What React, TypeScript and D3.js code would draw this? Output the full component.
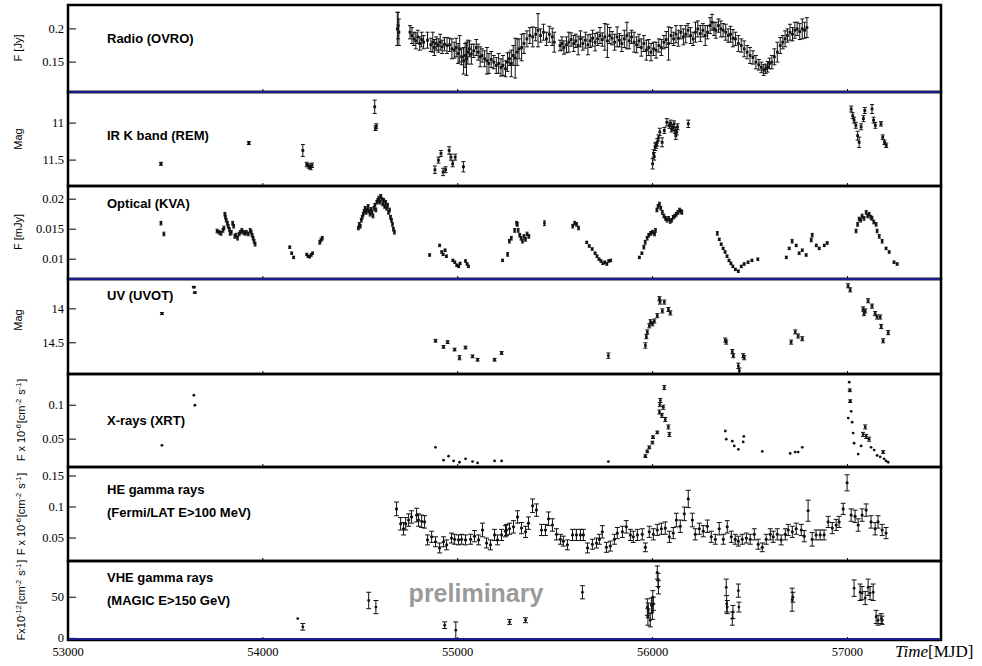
import * as d3 from 'd3';
import type { ReactNode } from 'react';

// [MJD, value, error]
type Pt = [number, number, number];

const radio: Pt[] = [
  [54690, 0.2, 0.025], [54694, 0.205, 0.02], [54698, 0.195, 0.02],
  [54755, 0.195, 0.01], [54765, 0.19, 0.012], [54775, 0.185, 0.01], [54785, 0.182, 0.012], [54795, 0.188, 0.01],
  [54805, 0.178, 0.01], [54815, 0.184, 0.011], [54825, 0.18, 0.01], [54845, 0.183, 0.012], [54862, 0.176, 0.01],
  [54872, 0.18, 0.015], [54880, 0.172, 0.012], [54890, 0.178, 0.01], [54900, 0.175, 0.01], [54910, 0.18, 0.012],
  [54920, 0.173, 0.01], [54932, 0.177, 0.01], [54945, 0.175, 0.012], [54958, 0.176, 0.01], [54970, 0.17, 0.015],
  [54982, 0.168, 0.012], [54992, 0.172, 0.014], [55002, 0.163, 0.015], [55010, 0.17, 0.02], [55020, 0.158, 0.012],
  [55030, 0.152, 0.02], [55038, 0.16, 0.018], [55045, 0.155, 0.025], [55052, 0.165, 0.018], [55060, 0.17, 0.012],
  [55070, 0.162, 0.015], [55082, 0.167, 0.01], [55095, 0.172, 0.012], [55105, 0.165, 0.012], [55115, 0.158, 0.015],
  [55125, 0.16, 0.01], [55138, 0.155, 0.012], [55150, 0.152, 0.02], [55160, 0.148, 0.015], [55172, 0.154, 0.012],
  [55185, 0.15, 0.01], [55198, 0.145, 0.012], [55210, 0.148, 0.015], [55222, 0.142, 0.013], [55232, 0.145, 0.015],
  [55245, 0.14, 0.012], [55255, 0.15, 0.014], [55265, 0.155, 0.01], [55275, 0.148, 0.02], [55285, 0.16, 0.015],
  [55295, 0.156, 0.03], [55305, 0.165, 0.02], [55315, 0.17, 0.015], [55328, 0.172, 0.02], [55340, 0.178, 0.015],
  [55355, 0.185, 0.012], [55370, 0.19, 0.012], [55385, 0.188, 0.015], [55400, 0.192, 0.01], [55412, 0.198, 0.025],
  [55425, 0.19, 0.01], [55440, 0.195, 0.012], [55455, 0.185, 0.01], [55470, 0.192, 0.012], [55485, 0.188, 0.013],
  [55495, 0.18, 0.015], [55525, 0.175, 0.008], [55535, 0.178, 0.01], [55545, 0.172, 0.01], [55558, 0.176, 0.012],
  [55570, 0.18, 0.015], [55582, 0.184, 0.01], [55595, 0.178, 0.012], [55606, 0.182, 0.01], [55618, 0.175, 0.014],
  [55630, 0.185, 0.012], [55642, 0.178, 0.01], [55655, 0.183, 0.012], [55668, 0.176, 0.015], [55680, 0.182, 0.01],
  [55692, 0.186, 0.012], [55705, 0.18, 0.013], [55718, 0.185, 0.01], [55730, 0.19, 0.012], [55742, 0.184, 0.01],
  [55755, 0.188, 0.02], [55768, 0.182, 0.025], [55780, 0.19, 0.012], [55792, 0.186, 0.01], [55805, 0.18, 0.012],
  [55818, 0.188, 0.015], [55830, 0.183, 0.01], [55842, 0.178, 0.012], [55855, 0.185, 0.013], [55868, 0.19, 0.02],
  [55880, 0.182, 0.012], [55892, 0.188, 0.01], [55905, 0.18, 0.015], [55918, 0.176, 0.012], [55930, 0.182, 0.01],
  [55942, 0.172, 0.013], [55955, 0.178, 0.012], [55968, 0.168, 0.015], [55980, 0.172, 0.012], [55992, 0.165, 0.013],
  [56005, 0.17, 0.01], [56018, 0.168, 0.012], [56032, 0.175, 0.01], [56045, 0.172, 0.012], [56058, 0.18, 0.01],
  [56070, 0.184, 0.012], [56082, 0.178, 0.025], [56095, 0.19, 0.012], [56108, 0.185, 0.01], [56120, 0.192, 0.013],
  [56132, 0.186, 0.012], [56145, 0.195, 0.01], [56158, 0.188, 0.012], [56170, 0.192, 0.013], [56182, 0.198, 0.01],
  [56195, 0.19, 0.012], [56208, 0.185, 0.01], [56220, 0.195, 0.015], [56232, 0.2, 0.012], [56245, 0.193, 0.012],
  [56258, 0.198, 0.01], [56270, 0.19, 0.015], [56282, 0.195, 0.01], [56295, 0.205, 0.012], [56305, 0.21, 0.012],
  [56315, 0.2, 0.01], [56325, 0.198, 0.012], [56338, 0.205, 0.01], [56350, 0.2, 0.012], [56362, 0.198, 0.01],
  [56375, 0.195, 0.012], [56388, 0.19, 0.01], [56400, 0.192, 0.012], [56412, 0.186, 0.013], [56425, 0.185, 0.01],
  [56440, 0.178, 0.012], [56455, 0.175, 0.01], [56470, 0.17, 0.012], [56485, 0.165, 0.01], [56500, 0.16, 0.012],
  [56515, 0.157, 0.01], [56530, 0.15, 0.01], [56545, 0.146, 0.008], [56558, 0.142, 0.008], [56570, 0.138, 0.008],
  [56580, 0.14, 0.007], [56590, 0.143, 0.008], [56600, 0.148, 0.008], [56612, 0.15, 0.01], [56625, 0.158, 0.012],
  [56640, 0.165, 0.015], [56655, 0.175, 0.012], [56668, 0.18, 0.01], [56680, 0.185, 0.012], [56692, 0.19, 0.01],
  [56705, 0.195, 0.012], [56718, 0.192, 0.01], [56730, 0.198, 0.012], [56742, 0.2, 0.01], [56755, 0.196, 0.012],
  [56768, 0.2, 0.015], [56780, 0.198, 0.012], [56792, 0.202, 0.015],
];

const irK: Pt[] = [
  [53477, 11.55, 0.02], [53928, 11.27, 0.02], [54205, 11.37, 0.08],
  [54225, 11.56, 0.03], [54235, 11.58, 0.03], [54245, 11.6, 0.03], [54252, 11.57, 0.03],
  [54574, 10.78, 0.09], [54578, 11.07, 0.03], [54582, 11.04, 0.03],
  [54883, 11.63, 0.05], [54901, 11.5, 0.04], [54914, 11.41, 0.04], [54925, 11.66, 0.05], [54938, 11.63, 0.04],
  [54956, 11.37, 0.05], [54965, 11.46, 0.04], [54974, 11.55, 0.04], [54987, 11.46, 0.04], [55029, 11.59, 0.07],
  [56000, 11.55, 0.07], [56005, 11.41, 0.05], [56008, 11.45, 0.05], [56013, 11.32, 0.05], [56018, 11.3, 0.04],
  [56024, 11.26, 0.05], [56030, 11.2, 0.04], [56037, 11.12, 0.05], [56049, 11.26, 0.06], [56060, 11.1, 0.04],
  [56073, 10.99, 0.05], [56086, 11.03, 0.04], [56092, 11.0, 0.04], [56097, 11.08, 0.04], [56104, 11.06, 0.04],
  [56110, 11.01, 0.04], [56115, 11.1, 0.04], [56119, 11.17, 0.05], [56124, 11.12, 0.04], [56128, 11.05, 0.04],
  [56183, 11.01, 0.05],
  [57019, 10.81, 0.04], [57027, 10.9, 0.04], [57034, 10.96, 0.04], [57043, 11.03, 0.04], [57052, 11.17, 0.06],
  [57060, 11.26, 0.07], [57070, 11.05, 0.04], [57082, 10.94, 0.04], [57089, 10.83, 0.04], [57126, 10.81, 0.06],
  [57134, 10.96, 0.04], [57143, 11.03, 0.04], [57172, 11.01, 0.03], [57181, 11.19, 0.03], [57190, 11.26, 0.03],
  [57199, 11.3, 0.03],
];

const optical: Pt[] = [
  [53477, 0.016, 0.0003], [53492, 0.0142, 0.0003],
  [53765, 0.0147, 0.0003], [53775, 0.0145, 0.0003], [53785, 0.0143, 0.0003], [53795, 0.0148, 0.0003],
  [53800, 0.0152, 0.0003], [53805, 0.0175, 0.0003], [53808, 0.017, 0.0003], [53812, 0.0165, 0.0003],
  [53818, 0.016, 0.0003], [53822, 0.0155, 0.0003], [53828, 0.015, 0.0003], [53832, 0.0143, 0.0003],
  [53838, 0.0145, 0.0003], [53845, 0.016, 0.0003], [53850, 0.0155, 0.0003], [53856, 0.0138, 0.0003],
  [53862, 0.014, 0.0003], [53870, 0.0135, 0.0003], [53878, 0.0142, 0.0003], [53885, 0.0145, 0.0003],
  [53892, 0.0148, 0.0003], [53900, 0.0145, 0.0003], [53908, 0.0143, 0.0003], [53915, 0.0145, 0.0003],
  [53925, 0.0142, 0.0003], [53935, 0.0148, 0.0003], [53940, 0.0145, 0.0003], [53945, 0.014, 0.0003],
  [53950, 0.0135, 0.0003], [53955, 0.013, 0.0003], [53960, 0.0125, 0.0003],
  [54138, 0.012, 0.0002], [54148, 0.011, 0.0002], [54158, 0.0103, 0.0002],
  [54225, 0.0108, 0.0002], [54232, 0.0105, 0.0002], [54240, 0.0104, 0.0002], [54248, 0.0107, 0.0002],
  [54255, 0.011, 0.0002], [54292, 0.0128, 0.0003], [54298, 0.0132, 0.0003], [54305, 0.0135, 0.0003],
  [54490, 0.0152, 0.0003], [54495, 0.0158, 0.0003], [54500, 0.0155, 0.0003], [54505, 0.0165, 0.0003],
  [54510, 0.017, 0.0003], [54515, 0.0175, 0.0003], [54520, 0.018, 0.0003], [54525, 0.0185, 0.0003],
  [54530, 0.0178, 0.0003], [54535, 0.0182, 0.0003], [54540, 0.0188, 0.0003], [54545, 0.018, 0.0003],
  [54550, 0.0175, 0.0003], [54555, 0.0183, 0.0003], [54560, 0.0178, 0.0003], [54565, 0.0172, 0.0003],
  [54570, 0.0185, 0.0003], [54575, 0.019, 0.0003], [54580, 0.0182, 0.0003], [54585, 0.0195, 0.0003],
  [54590, 0.0198, 0.0003], [54595, 0.0202, 0.0003], [54600, 0.0195, 0.0003], [54605, 0.0205, 0.0003],
  [54610, 0.02, 0.0003], [54615, 0.0192, 0.0003], [54620, 0.0198, 0.0003], [54625, 0.0188, 0.0003],
  [54630, 0.0195, 0.0003], [54635, 0.0185, 0.0003], [54640, 0.019, 0.0003], [54645, 0.0178, 0.0003],
  [54650, 0.0182, 0.0003], [54655, 0.017, 0.0003], [54660, 0.0165, 0.0003], [54665, 0.0158, 0.0003],
  [54670, 0.015, 0.0003], [54675, 0.0145, 0.0003],
  [54856, 0.0107, 0.0002], [54907, 0.0123, 0.0002], [54918, 0.0112, 0.0002], [54925, 0.0108, 0.0002],
  [54935, 0.0115, 0.0002], [54942, 0.0105, 0.0002], [54975, 0.0098, 0.0002], [54985, 0.0095, 0.0002],
  [54995, 0.009, 0.0002], [55005, 0.0088, 0.0002], [55012, 0.0093, 0.0002], [55040, 0.0097, 0.0002],
  [55048, 0.0092, 0.0002], [55055, 0.0088, 0.0002],
  [55230, 0.0098, 0.0002], [55256, 0.0108, 0.0003], [55265, 0.013, 0.0003], [55275, 0.0135, 0.0003],
  [55292, 0.0148, 0.0003], [55302, 0.016, 0.0003], [55306, 0.0158, 0.0003], [55310, 0.0148, 0.0003],
  [55318, 0.014, 0.0003], [55325, 0.0135, 0.0003], [55332, 0.013, 0.0003], [55340, 0.0138, 0.0003],
  [55348, 0.0133, 0.0003], [55356, 0.0142, 0.0003], [55365, 0.0138, 0.0003], [55445, 0.016, 0.0004],
  [55590, 0.0155, 0.0003], [55600, 0.016, 0.0003], [55610, 0.0158, 0.0003], [55620, 0.0152, 0.0003],
  [55662, 0.0128, 0.0002], [55675, 0.0122, 0.0002], [55690, 0.0117, 0.0002], [55705, 0.011, 0.0002],
  [55715, 0.0105, 0.0002], [55725, 0.01, 0.0002], [55735, 0.0097, 0.0002], [55745, 0.0093, 0.0002],
  [55755, 0.0095, 0.0002], [55765, 0.0092, 0.0002], [55775, 0.0097, 0.0002], [55785, 0.0098, 0.0002],
  [55932, 0.0103, 0.0002], [55945, 0.011, 0.0002], [55955, 0.012, 0.0003], [55962, 0.0128, 0.0003],
  [55972, 0.0135, 0.0003], [55980, 0.014, 0.0003], [55990, 0.0143, 0.0003], [56000, 0.0145, 0.0003],
  [56010, 0.0142, 0.0003], [56015, 0.0148, 0.0003], [56022, 0.0182, 0.0003], [56028, 0.0188, 0.0003],
  [56035, 0.0192, 0.0003], [56042, 0.0185, 0.0003], [56050, 0.0178, 0.0003], [56058, 0.0172, 0.0003],
  [56066, 0.0168, 0.0003], [56074, 0.0165, 0.0003], [56082, 0.0168, 0.0003], [56090, 0.0163, 0.0003],
  [56098, 0.0165, 0.0003], [56106, 0.017, 0.0003], [56114, 0.0172, 0.0003], [56122, 0.0175, 0.0003],
  [56130, 0.0178, 0.0003], [56138, 0.0182, 0.0003], [56145, 0.018, 0.0003], [56150, 0.0178, 0.0003],
  [56332, 0.0143, 0.0003], [56342, 0.0133, 0.0002], [56352, 0.0125, 0.0002], [56362, 0.0118, 0.0002],
  [56372, 0.0112, 0.0002], [56382, 0.0105, 0.0002], [56392, 0.0098, 0.0002], [56402, 0.0093, 0.0002],
  [56412, 0.0088, 0.0002], [56425, 0.0083, 0.0002], [56440, 0.008, 0.0002], [56455, 0.0088, 0.0002],
  [56470, 0.0092, 0.0002], [56490, 0.0095, 0.0002], [56510, 0.0098, 0.0002], [56540, 0.01, 0.0002],
  [56686, 0.0103, 0.0002], [56701, 0.0118, 0.0002], [56716, 0.013, 0.0003], [56737, 0.0123, 0.0002],
  [56752, 0.011, 0.0002], [56768, 0.0115, 0.0002], [56788, 0.0107, 0.0002], [56814, 0.0132, 0.0003],
  [56819, 0.014, 0.0003], [56840, 0.0123, 0.0002], [56855, 0.0118, 0.0002], [56881, 0.0123, 0.0002],
  [56896, 0.0127, 0.0002],
  [57044, 0.0147, 0.0003], [57052, 0.0158, 0.0003], [57060, 0.0167, 0.0003], [57068, 0.0165, 0.0003],
  [57075, 0.0172, 0.0003], [57085, 0.0168, 0.0003], [57096, 0.0178, 0.0003], [57104, 0.0172, 0.0003],
  [57111, 0.0175, 0.0003], [57120, 0.017, 0.0003], [57126, 0.0168, 0.0003], [57135, 0.0162, 0.0003],
  [57147, 0.0158, 0.0003], [57152, 0.0147, 0.0003], [57163, 0.0138, 0.0003], [57178, 0.013, 0.0003],
  [57198, 0.0118, 0.0002], [57214, 0.0112, 0.0002], [57239, 0.0095, 0.0002], [57255, 0.0092, 0.0002],
];

const uv: Pt[] = [
  [53482, 14.07, 0.015], [53646, 13.68, 0.01], [53651, 13.76, 0.01],
  [54886, 14.47, 0.02], [54927, 14.56, 0.02], [54948, 14.49, 0.02], [54984, 14.6, 0.02], [55009, 14.72, 0.03],
  [55040, 14.57, 0.02], [55076, 14.7, 0.02], [55102, 14.75, 0.02], [55189, 14.75, 0.02], [55225, 14.65, 0.02],
  [55773, 14.69, 0.04],
  [55963, 14.54, 0.04], [55968, 14.41, 0.03], [55973, 14.34, 0.03], [55983, 14.25, 0.03], [55989, 14.19, 0.03],
  [55999, 14.22, 0.03], [56009, 14.18, 0.03], [56024, 14.1, 0.03], [56035, 13.85, 0.03], [56038, 13.9, 0.03],
  [56050, 14.03, 0.03], [56060, 13.9, 0.03], [56081, 14.01, 0.03], [56091, 14.06, 0.03],
  [56373, 14.46, 0.03], [56378, 14.49, 0.03], [56409, 14.63, 0.03], [56414, 14.69, 0.03], [56440, 14.84, 0.04],
  [56445, 14.91, 0.04], [56465, 14.69, 0.03], [56470, 14.72, 0.03],
  [56711, 14.49, 0.03], [56732, 14.34, 0.03], [56747, 14.4, 0.03], [56768, 14.44, 0.03],
  [57003, 13.66, 0.03], [57014, 13.72, 0.03], [57080, 14.0, 0.03], [57085, 14.07, 0.03], [57091, 14.03, 0.03],
  [57106, 13.88, 0.03], [57126, 13.96, 0.03], [57142, 14.07, 0.03], [57152, 14.12, 0.03], [57168, 14.12, 0.03],
  [57173, 14.26, 0.03], [57183, 14.47, 0.03], [57209, 14.35, 0.03],
];

const xrt: Pt[] = [
  [53482, 0.041, 0], [53646, 0.1147, 0], [53651, 0.1, 0],
  [54886, 0.038, 0], [54927, 0.019, 0], [54953, 0.025, 0], [54979, 0.018, 0], [55009, 0.016, 0],
  [55040, 0.021, 0], [55076, 0.017, 0], [55102, 0.015, 0], [55189, 0.018, 0], [55225, 0.018, 0],
  [55773, 0.017, 0],
  [55963, 0.025, 0.002], [55973, 0.032, 0.002], [55983, 0.038, 0.002], [55999, 0.045, 0.002], [56002, 0.053, 0.002],
  [56024, 0.06, 0.002], [56035, 0.09, 0.003], [56037, 0.101, 0.003], [56040, 0.107, 0.003], [56048, 0.085, 0.003],
  [56055, 0.097, 0.003], [56060, 0.126, 0.003], [56065, 0.079, 0.003], [56081, 0.068, 0.003], [56086, 0.057, 0.003],
  [56373, 0.062, 0], [56378, 0.05, 0], [56409, 0.047, 0], [56419, 0.04, 0], [56440, 0.035, 0], [56465, 0.046, 0],
  [56468, 0.054, 0], [56563, 0.032, 0], [56706, 0.029, 0], [56732, 0.031, 0], [56747, 0.031, 0], [56768, 0.038, 0],
  [57004, 0.081, 0], [57009, 0.134, 0], [57012, 0.122, 0.002], [57014, 0.106, 0.002], [57019, 0.091, 0],
  [57024, 0.075, 0], [57029, 0.059, 0], [57034, 0.044, 0], [57055, 0.028, 0], [57070, 0.04, 0],
  [57080, 0.057, 0.003], [57091, 0.068, 0.003], [57096, 0.054, 0.003], [57111, 0.05, 0.003], [57121, 0.038, 0],
  [57137, 0.034, 0], [57152, 0.026, 0], [57168, 0.024, 0], [57183, 0.031, 0.002], [57188, 0.021, 0],
  [57198, 0.018, 0], [57209, 0.016, 0],
];

const fermi: Pt[] = [
  [54686, 0.097, 0.011], [54707, 0.073, 0.01], [54722, 0.065, 0.01], [54733, 0.073, 0.01], [54748, 0.079, 0.01],
  [54763, 0.084, 0.01], [54789, 0.087, 0.011], [54799, 0.079, 0.01], [54815, 0.077, 0.01], [54830, 0.076, 0.01],
  [54845, 0.047, 0.008], [54866, 0.052, 0.009], [54886, 0.044, 0.008], [54907, 0.034, 0.008], [54927, 0.044, 0.008],
  [54943, 0.039, 0.008], [54968, 0.05, 0.008], [54984, 0.048, 0.008], [55004, 0.047, 0.008], [55020, 0.048, 0.008],
  [55040, 0.047, 0.008], [55066, 0.048, 0.008], [55086, 0.053, 0.009], [55107, 0.047, 0.008], [55127, 0.063, 0.011],
  [55148, 0.042, 0.008], [55168, 0.039, 0.008], [55189, 0.055, 0.009], [55204, 0.047, 0.008], [55225, 0.055, 0.009],
  [55245, 0.061, 0.009], [55250, 0.063, 0.009], [55266, 0.065, 0.009], [55286, 0.068, 0.01], [55307, 0.084, 0.01],
  [55327, 0.066, 0.009], [55348, 0.06, 0.009], [55363, 0.074, 0.01], [55384, 0.102, 0.011], [55404, 0.095, 0.01],
  [55430, 0.063, 0.009], [55450, 0.063, 0.009], [55466, 0.081, 0.011], [55486, 0.071, 0.01], [55507, 0.056, 0.009],
  [55527, 0.048, 0.008], [55542, 0.045, 0.008], [55563, 0.039, 0.008], [55589, 0.055, 0.009], [55609, 0.055, 0.009],
  [55630, 0.055, 0.009], [55645, 0.055, 0.009], [55666, 0.034, 0.008], [55691, 0.04, 0.008], [55712, 0.042, 0.008],
  [55727, 0.048, 0.008], [55742, 0.06, 0.01], [55763, 0.035, 0.008], [55783, 0.037, 0.008], [55804, 0.048, 0.008],
  [55819, 0.058, 0.009], [55845, 0.06, 0.009], [55865, 0.068, 0.01], [55886, 0.055, 0.009], [55901, 0.052, 0.009],
  [55922, 0.055, 0.009], [55947, 0.056, 0.009], [55963, 0.035, 0.007], [55983, 0.06, 0.009], [56004, 0.056, 0.009],
  [56024, 0.063, 0.009], [56045, 0.065, 0.009], [56065, 0.066, 0.01], [56086, 0.052, 0.009], [56106, 0.058, 0.009],
  [56122, 0.079, 0.011], [56142, 0.069, 0.01], [56163, 0.089, 0.011], [56183, 0.113, 0.014], [56204, 0.079, 0.011],
  [56219, 0.056, 0.009], [56240, 0.065, 0.009], [56260, 0.061, 0.009], [56281, 0.069, 0.01], [56301, 0.052, 0.009],
  [56322, 0.048, 0.008], [56342, 0.065, 0.01], [56363, 0.048, 0.008], [56383, 0.068, 0.01], [56404, 0.052, 0.009],
  [56424, 0.048, 0.008], [56440, 0.045, 0.008], [56460, 0.048, 0.008], [56481, 0.05, 0.008], [56501, 0.048, 0.008],
  [56522, 0.056, 0.009], [56542, 0.04, 0.008], [56563, 0.035, 0.007], [56583, 0.048, 0.008], [56604, 0.056, 0.009],
  [56619, 0.052, 0.009], [56640, 0.056, 0.009], [56660, 0.047, 0.008], [56681, 0.056, 0.009], [56696, 0.063, 0.009],
  [56717, 0.06, 0.009], [56737, 0.065, 0.009], [56763, 0.063, 0.009], [56778, 0.053, 0.009], [56798, 0.094, 0.017],
  [56819, 0.048, 0.011], [56839, 0.055, 0.008], [56860, 0.055, 0.008], [56880, 0.055, 0.008], [56901, 0.076, 0.009],
  [56922, 0.066, 0.009], [56942, 0.071, 0.009], [56957, 0.076, 0.009], [56978, 0.097, 0.009], [56998, 0.139, 0.013],
  [57019, 0.087, 0.01], [57039, 0.085, 0.01], [57055, 0.071, 0.01], [57075, 0.087, 0.01], [57096, 0.095, 0.01],
  [57121, 0.076, 0.01], [57142, 0.065, 0.01], [57157, 0.076, 0.01], [57178, 0.063, 0.009], [57198, 0.058, 0.009],
];

const magic: Pt[] = [
  [54179, 24, 0], [54205, 14, 4], [54543, 46, 10], [54580, 38, 8],
  [54933, 16, 4], [54990, 10, 10], [55266, 20, 3], [55348, 22, 3], [55640, 56, 8],
  [55973, 38, 10], [55976, 26, 10], [55978, 34, 9], [55988, 22, 8], [55994, 40, 9], [55999, 32, 9],
  [56001, 50, 8], [56004, 42, 8], [56024, 80, 8], [56028, 71, 8], [56030, 62, 8],
  [56378, 62, 10], [56380, 42, 10], [56383, 38, 8], [56409, 24, 8], [56412, 32, 8], [56440, 58, 8], [56443, 38, 6],
  [56716, 47, 14], [56720, 50, 6],
  [57034, 61, 10], [57065, 56, 10], [57075, 55, 8], [57091, 49, 8], [57106, 62, 10], [57116, 55, 8],
  [57132, 56, 10], [57147, 26, 8], [57157, 22, 6], [57173, 24, 6], [57178, 22, 5],
];

const xTicks = [53000, 54000, 55000, 56000, 57000];

type Marker = 'square' | 'circle';

interface PanelSpec {
  top: number;
  bottom: number;
  domain: [number, number];
  magnitude?: boolean;
  ticks: number[];
  tickLabels: string[];
  data: Pt[];
  marker: Marker;
  size: number;
  cap: number;
  labels: string[];
  labelY: number;
  title: ReactNode;
  titleX: number;
  titleY: number;
}

const LEFT = 68;
const RIGHT = 941;
const NAVY = '#1c1c8a';
const SANS = 'Liberation Sans, Arial, Helvetica, sans-serif';
const SERIF = 'Liberation Serif, Times New Roman, serif';

const x = d3.scaleLinear().domain([53000, 57480]).range([LEFT, RIGHT]);

const sup = (s: string) => (
  <>
    <tspan dy={-4} fontSize={7.5}>{s}</tspan>
    <tspan dy={4}>{'\u200a'}</tspan>
  </>
);

const panels: PanelSpec[] = [
  {
    top: 5, bottom: 92, domain: [0.105, 0.236], ticks: [0.15, 0.2], tickLabels: ['0.15', '0.2'],
    data: radio, marker: 'square', size: 1.4, cap: 2, labels: ['Radio (OVRO)'], labelY: 43,
    title: 'F [Jy]', titleX: 22, titleY: 48,
  },
  {
    top: 92, bottom: 186, domain: [10.58, 11.85], magnitude: true, ticks: [11, 11.5], tickLabels: ['11', '11.5'],
    data: irK, marker: 'square', size: 1.4, cap: 2, labels: ['IR K band (REM)'], labelY: 140,
    title: 'Mag', titleX: 22, titleY: 139,
  },
  {
    top: 186, bottom: 279, domain: [0.0067, 0.0222], ticks: [0.01, 0.015, 0.02], tickLabels: ['0.01', '0.015', '0.02'],
    data: optical, marker: 'square', size: 1.3, cap: 1.5, labels: ['Optical (KVA)'], labelY: 208,
    title: 'F [mJy]', titleX: 22, titleY: 232,
  },
  {
    top: 279, bottom: 374, domain: [13.56, 14.96], magnitude: true, ticks: [14, 14.5], tickLabels: ['14', '14.5'],
    data: uv, marker: 'square', size: 1.3, cap: 2, labels: ['UV (UVOT)'], labelY: 300,
    title: 'Mag', titleX: 22, titleY: 320,
  },
  {
    top: 374, bottom: 467, domain: [0.009, 0.146], ticks: [0.05, 0.1], tickLabels: ['0.05', '0.1'],
    data: xrt, marker: 'circle', size: 1.4, cap: 2, labels: ['X-rays (XRT)'], labelY: 425,
    title: <>F x 10{sup('-6')}[cm{sup('-2')} s{sup('-1')}]</>, titleX: 25, titleY: 420,
  },
  {
    top: 467, bottom: 561, domain: [0.013, 0.1645], ticks: [0.05, 0.1, 0.15], tickLabels: ['0.05', '0.1', '0.15'],
    data: fermi, marker: 'circle', size: 1.6, cap: 2.5,
    labels: ['HE gamma rays', '(Fermi/LAT E>100 MeV)'], labelY: 494,
    title: <>F x 10{sup('-6')}[cm{sup('-2')} s{sup('-1')}]</>, titleX: 25, titleY: 514,
  },
  {
    top: 561, bottom: 640, domain: [-2, 94], ticks: [0, 50], tickLabels: ['0', '50'],
    data: magic, marker: 'circle', size: 1.4, cap: 2.5,
    labels: ['VHE gamma rays', '(MAGIC E>150 GeV)'], labelY: 582,
    title: <>Fx10{sup('-12')}[cm{sup('-2')} s{sup('-1')}]</>, titleX: 25, titleY: 600,
  },
];

function Panel({ spec, index }: { spec: PanelSpec; index: number }) {
  const y = d3.scaleLinear()
    .domain(spec.domain)
    .range(spec.magnitude ? [spec.top, spec.bottom] : [spec.bottom, spec.top]);
  const clipId = `clip-${index}`;

  return (
    <g>
      <defs>
        <clipPath id={clipId}>
          <rect x={LEFT} y={spec.top} width={RIGHT - LEFT} height={spec.bottom - spec.top} />
        </clipPath>
      </defs>

      <g clipPath={`url(#${clipId})`} stroke="#111" fill="#111">
        {spec.data.map(([t, v, e], i) => {
          const px = x(t);
          const py = y(v);
          const y1 = y(v - e);
          const y2 = y(v + e);
          return (
            <g key={i}>
              {e > 0 && (
                <>
                  <line x1={px} x2={px} y1={y1} y2={y2} strokeWidth={1} />
                  <line x1={px - spec.cap} x2={px + spec.cap} y1={y1} y2={y1} strokeWidth={1} />
                  <line x1={px - spec.cap} x2={px + spec.cap} y1={y2} y2={y2} strokeWidth={1} />
                </>
              )}
              {spec.marker === 'square' ? (
                <rect x={px - spec.size} y={py - spec.size} width={spec.size * 2} height={spec.size * 2} stroke="none" />
              ) : (
                <circle cx={px} cy={py} r={spec.size} stroke="none" />
              )}
            </g>
          );
        })}
      </g>

      {/* y ticks, pointing inward */}
      {spec.ticks.map((tv, i) => (
        <g key={tv}>
          <line x1={LEFT} x2={LEFT + 8} y1={y(tv)} y2={y(tv)} stroke="#000" strokeWidth={1} />
          <text x={LEFT - 4} y={y(tv)} dy="0.33em" textAnchor="end" fontFamily={SERIF} fontSize={12.5} fill="#000">
            {spec.tickLabels[i]}
          </text>
        </g>
      ))}

      {/* small x ticks on each panel bottom */}
      {xTicks.slice(1).map(tv => (
        <line key={tv} x1={x(tv)} x2={x(tv)} y1={spec.bottom - 3} y2={spec.bottom} stroke="#000" strokeWidth={1} />
      ))}

      {spec.labels.map((l, i) => (
        <text key={l} x={107} y={spec.labelY + i * 23} fontFamily={SANS} fontWeight="bold" fontSize={13} fill="#000">
          {l}
        </text>
      ))}

      <text
        transform={`translate(${spec.titleX},${spec.titleY}) rotate(-90)`}
        textAnchor="middle"
        fontFamily={SANS}
        fontSize={11}
        fill="#000"
      >
        {spec.title}
      </text>

      <rect
        x={LEFT}
        y={spec.top}
        width={RIGHT - LEFT}
        height={spec.bottom - spec.top}
        fill="none"
        stroke="#000"
        strokeWidth={2.5}
      />
    </g>
  );
}

export default function App() {
  return (
    <svg
      width={982}
      height={666}
      style={{ position: 'absolute', left: 0, top: 0, background: '#fff' }}
    >
      <rect width={982} height={666} fill="#fff" />
      {panels.map((p, i) => (
        <Panel key={i} spec={p} index={i} />
      ))}

      {/* blue separators */}
      {[92, 279, 639].map(yy => (
        <line key={yy} x1={LEFT + 1} x2={RIGHT - 1} y1={yy} y2={yy} stroke={NAVY} strokeWidth={2} />
      ))}

      <text x={476} y={602} textAnchor="middle" fontFamily={SANS} fontWeight="bold" fontSize={25} fill="#9a9a9a">
        preliminary
      </text>

      {xTicks.map(tv => (
        <text key={tv} x={x(tv)} y={656} textAnchor="middle" fontFamily={SERIF} fontSize={12.5} fill="#000">
          {tv}
        </text>
      ))}

      <text x={895} y={657} fontFamily={SERIF} fontSize={17} fill="#000">
        <tspan fontStyle="italic">Time</tspan>
        <tspan>[MJD]</tspan>
      </text>
    </svg>
  );
}
